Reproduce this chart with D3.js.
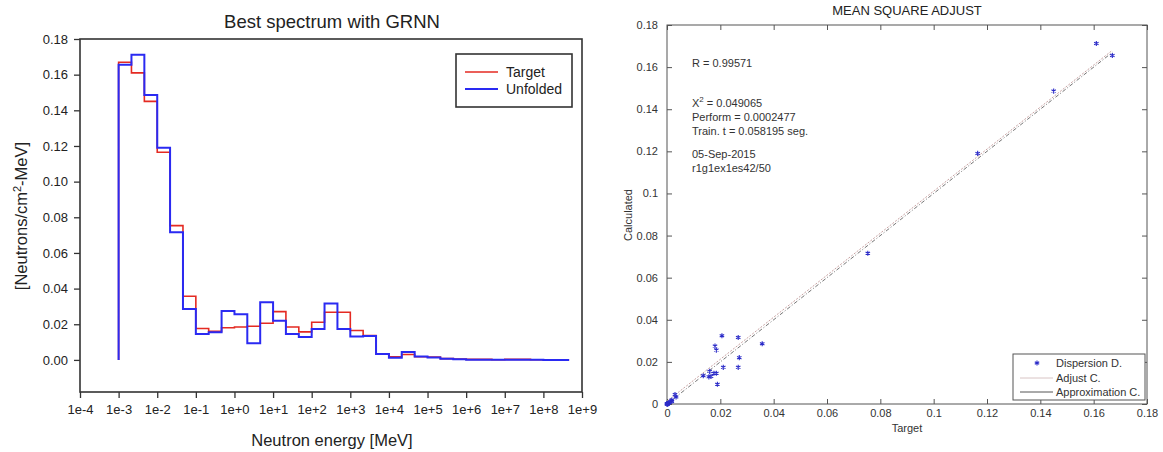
<!DOCTYPE html>
<html>
<head>
<meta charset="utf-8">
<script src="https://cdn.jsdelivr.net/npm/d3@7"></script>
<style>
body { margin: 0; background: #fff; }
text { font-family: "Liberation Sans", Arial, sans-serif; }
</style>
</head>
<body>
<div id="chart"></div>
<script>

// bin edges of the spectrum (MeV), one third of a decade each
var energyEdges = [1e-3, 2.15e-3, 4.64e-3, 1e-2, 2.15e-2, 4.64e-2, 1e-1, 2.15e-1, 4.64e-1,
	1e0, 2.15e0, 4.64e0, 1e1, 2.15e1, 4.64e1, 1e2, 2.15e2, 4.64e2, 1e3, 2.15e3, 4.64e3,
	1e4, 2.15e4, 4.64e4, 1e5, 2.15e5, 4.64e5, 1e6, 2.15e6, 4.64e6, 1e7, 2.15e7, 4.64e7,
	1e8, 2.15e8, 4.64e8];

var targetFlux = [0.167, 0.161, 0.145, 0.1165, 0.0753, 0.0357, 0.0176, 0.0160, 0.0180,
	0.0185, 0.0189, 0.0206, 0.0271, 0.0185, 0.0157, 0.0211, 0.0267, 0.0267, 0.0165,
	0.0136, 0.0034, 0.0018, 0.0030, 0.0018, 0.0016, 0.0007, 0.0005, 0.0003, 0.0003,
	0.0001, 0.0003, 0.0003, 0.0001, 0.0, 0.0];

var unfoldedFlux = [0.1655, 0.1712, 0.1486, 0.119, 0.0716, 0.0286, 0.0146, 0.0155, 0.0275,
	0.0256, 0.0094, 0.0324, 0.0220, 0.0146, 0.0129, 0.0174, 0.0316, 0.0174, 0.0131,
	0.0134, 0.0033, 0.0012, 0.0045, 0.0019, 0.0014, 0.0007, 0.0004, 0.0001, 0.0001,
	0.0001, 0.0001, 0.0001, 0.0001, 0.0, 0.0];

var decadeTicks = [1e-4, 1e-3, 1e-2, 1e-1, 1e0, 1e1, 1e2, 1e3, 1e4, 1e5, 1e6, 1e7, 1e8, 1e9];
var fluxTicks = [0, 0.02, 0.04, 0.06, 0.08, 0.10, 0.12, 0.14, 0.16, 0.18];
var adjustTicks = [0, 0.02, 0.04, 0.06, 0.08, 0.1, 0.12, 0.14, 0.16, 0.18];

// fitted line of the dispersion
var fitSlope = 0.998;
var fitIntercept = 0.0013;

var statsLines = ["R  = 0.99571", "", "", "Perform = 0.0002477", "Train. t = 0.058195 seg.", "05-Sep-2015", "r1g1ex1es42/50"];

var svg = d3.select("#chart")
	.append("svg")
	.attr("width", 1163)
	.attr("height", 452)
	.style("display", "block");

svg.append("rect").attr("width", 1163).attr("height", 452).attr("fill", "#fff");

function spectrum(){
	var x = d3.scaleLog().domain([1e-4, 1e9]).range([80, 582]);
	var y = d3.scaleLinear().domain([-0.018, 0.18]).range([392, 39]);

	var g = svg.append("g");

	g.append("text")
		.attr("x", 332).attr("y", 28)
		.attr("text-anchor", "middle")
		.style("font-size", "18.5px")
		.attr("fill", "#222")
		.text("Best spectrum with GRNN");

	var xAxis = g.append("g")
		.attr("transform", "translate(0,392)")
		.call(d3.axisBottom(x).tickValues(decadeTicks).tickSize(6).tickPadding(7)
			.tickFormat(function(d) {
				var e = Math.round(Math.log10(d));
				return "1e" + (e >= 0 ? "+" + e : e);
			}));
	var yAxis = g.append("g")
		.attr("transform", "translate(80,0)")
		.call(d3.axisLeft(y).tickValues(fluxTicks).tickSize(6).tickPadding(6).tickFormat(d3.format(".2f")));

	[xAxis, yAxis].forEach(function(a) {
		a.select(".domain").remove();
		a.selectAll("line").attr("stroke", "#333").attr("stroke-width", 1.3);
		a.selectAll("text").style("font-size", "13px").attr("fill", "#222");
	});

	g.append("rect")
		.attr("x", 80).attr("y", 39)
		.attr("width", 502).attr("height", 353)
		.attr("fill", "none")
		.attr("stroke", "#333")
		.attr("stroke-width", 1.6);

	g.append("text")
		.attr("x", 332).attr("y", 446)
		.attr("text-anchor", "middle")
		.style("font-size", "16.5px")
		.attr("fill", "#222")
		.text("Neutron energy [MeV]");

	var yl = g.append("text")
		.attr("transform", "translate(27,216) rotate(-90)")
		.attr("text-anchor", "middle")
		.style("font-size", "16.5px")
		.attr("fill", "#222");
	yl.append("tspan").text("[Neutrons/cm");
	yl.append("tspan").attr("dy", -6).style("font-size", "11px").text("2");
	yl.append("tspan").attr("dy", 6).text("-MeV]");

	function steps(values){
		var pts = [[energyEdges[0], 0]];
		values.forEach(function(v, i) { pts.push([energyEdges[i], v]); });
		pts.push([energyEdges[energyEdges.length - 1], values[values.length - 1]]);
		return pts;
	}

	var line = d3.line()
		.x(function(d) { return x(d[0]); })
		.y(function(d) { return y(d[1]); })
		.curve(d3.curveStepAfter);

	g.append("path")
		.attr("d", line(steps(targetFlux)))
		.attr("fill", "none")
		.attr("stroke", "#e42a22")
		.attr("stroke-width", 1.6);

	g.append("path")
		.attr("d", line(steps(unfoldedFlux)))
		.attr("fill", "none")
		.attr("stroke", "#2a2af2")
		.attr("stroke-width", 2);

	// legend
	g.append("rect")
		.attr("x", 456).attr("y", 54)
		.attr("width", 116).attr("height", 53)
		.attr("fill", "#fff")
		.attr("stroke", "#333")
		.attr("stroke-width", 1.6);
	var items = [["Target", "#e42a22", 1.6], ["Unfolded", "#2a2af2", 2]];
	items.forEach(function(it, i) {
		var yy = 72 + i * 17;
		g.append("line")
			.attr("x1", 465).attr("x2", 498)
			.attr("y1", yy).attr("y2", yy)
			.attr("stroke", it[1]).attr("stroke-width", it[2]);
		g.append("text")
			.attr("x", 506).attr("y", yy + 5)
			.style("font-size", "14px")
			.attr("fill", "#222")
			.text(it[0]);
	});
}

function adjust(){
	var x = d3.scaleLinear().domain([0, 0.18]).range([667, 1147]);
	var y = d3.scaleLinear().domain([0, 0.18]).range([404, 25]);
	var fmt = function(d) { return String(+d.toFixed(2)); };

	var g = svg.append("g");

	g.append("text")
		.attr("x", 907).attr("y", 15)
		.attr("text-anchor", "middle")
		.style("font-size", "13px")
		.attr("fill", "#222")
		.text("MEAN SQUARE ADJUST");

	var axes = [
		g.append("g").attr("transform", "translate(0,404)")
			.call(d3.axisBottom(x).tickValues(adjustTicks).tickSize(-5).tickPadding(5).tickFormat(fmt)),
		g.append("g").attr("transform", "translate(0,25)")
			.call(d3.axisTop(x).tickValues(adjustTicks).tickSize(-5).tickFormat("")),
		g.append("g").attr("transform", "translate(667,0)")
			.call(d3.axisLeft(y).tickValues(adjustTicks).tickSize(-5).tickPadding(9).tickFormat(fmt)),
		g.append("g").attr("transform", "translate(1147,0)")
			.call(d3.axisRight(y).tickValues(adjustTicks).tickSize(-5).tickFormat(""))
	];
	axes.forEach(function(a) {
		a.select(".domain").remove();
		a.selectAll("line").attr("stroke", "#555");
		a.selectAll("text").style("font-size", "11px").attr("fill", "#333");
	});

	g.append("rect")
		.attr("x", 667).attr("y", 25)
		.attr("width", 480).attr("height", 379)
		.attr("fill", "none")
		.attr("stroke", "#555")
		.attr("stroke-width", 1);

	g.append("text")
		.attr("x", 907).attr("y", 432)
		.attr("text-anchor", "middle")
		.style("font-size", "11px")
		.attr("fill", "#333")
		.text("Target");

	g.append("text")
		.attr("transform", "translate(632,215) rotate(-90)")
		.attr("text-anchor", "middle")
		.style("font-size", "11px")
		.attr("fill", "#333")
		.text("Calculated");

	// statistics
	var st = g.append("g").style("font-size", "11px").attr("fill", "#333");
	var rows = [67, 0, 106.5, 120.5, 134.5, 158, 171.5];
	statsLines.forEach(function(s, i) {
		if (s) st.append("text").attr("x", 692).attr("y", rows[i]).text(s);
	});
	var chi = st.append("text").attr("x", 692).attr("y", rows[2]);
	chi.append("tspan").text("X");
	chi.append("tspan").attr("dy", -5).style("font-size", "8px").text("2");
	chi.append("tspan").attr("dy", 5).text(" = 0.049065");

	var xmin = d3.min(targetFlux), xmax = d3.max(targetFlux);

	g.append("line")
		.attr("x1", x(xmin)).attr("y1", y(fitSlope * xmin + fitIntercept))
		.attr("x2", x(xmax)).attr("y2", y(fitSlope * xmax + fitIntercept))
		.attr("stroke", "#c9a4a4")
		.attr("stroke-width", 1)
		.attr("stroke-dasharray", "2,1.5");

	g.append("line")
		.attr("x1", x(xmin)).attr("y1", y(xmin))
		.attr("x2", x(xmax)).attr("y2", y(xmax))
		.attr("stroke", "#666")
		.attr("stroke-width", 0.9)
		.attr("stroke-dasharray", "4,2,1,2");

	var star = d3.symbol(d3.symbolAsterisk, 18);
	g.selectAll(".pt")
		.data(targetFlux.map(function(t, i) { return [t, unfoldedFlux[i]]; }))
		.enter().append("path")
		.attr("class", "pt")
		.attr("transform", function(d) { return "translate(" + x(d[0]) + "," + y(d[1]) + ")"; })
		.attr("d", star)
		.attr("fill", "none")
		.attr("stroke", "#2b2bc8")
		.attr("stroke-width", 1.1);

	// legend
	g.append("rect")
		.attr("x", 1013).attr("y", 354)
		.attr("width", 132).attr("height", 46)
		.attr("fill", "#fff")
		.attr("stroke", "#555")
		.attr("stroke-width", 1);
	g.append("path")
		.attr("transform", "translate(1037,363)")
		.attr("d", star)
		.attr("fill", "none")
		.attr("stroke", "#2b2bc8")
		.attr("stroke-width", 1.1);
	g.append("line").attr("x1", 1020).attr("x2", 1053).attr("y1", 378).attr("y2", 378)
		.attr("stroke", "#d8c4c4").attr("stroke-width", 1);
	g.append("line").attr("x1", 1020).attr("x2", 1053).attr("y1", 392).attr("y2", 392)
		.attr("stroke", "#555").attr("stroke-width", 1);
	["Dispersion D.", "Adjust C.", "Approximation C."].forEach(function(s, i) {
		g.append("text")
			.attr("x", 1056).attr("y", [367, 382, 396][i])
			.style("font-size", "11px")
			.attr("fill", "#333")
			.text(s);
	});
}

spectrum();
adjust();

</script>
</body>
</html>
